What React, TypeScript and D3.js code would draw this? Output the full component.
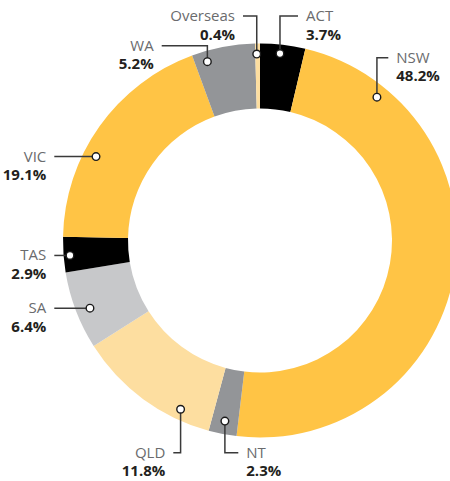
import React from "react";
import * as d3 from "d3";

const categories = ["ACT", "NSW", "NT", "QLD", "SA", "TAS", "VIC", "WA", "Overseas"];
const values = [3.7, 48.2, 2.3, 11.8, 6.4, 2.9, 19.1, 5.2, 0.4];
const valueLabels = ["3.7%", "48.2%", "2.3%", "11.8%", "6.4%", "2.9%", "19.1%", "5.2%", "0.4%"];
const colors = ["#000000", "#FFC445", "#939598", "#FDDEA0", "#C7C8CA", "#000000", "#FFC445", "#939598", "#FDDEA0"];

// annotation layout: dot angle (deg, clockwise from top), dot radius, elbow y (null = straight), line end x, side
const labelLayout = [
  { angle: 6.1, r: 188, elbowY: 16, endX: 298, side: "right" },
  { angle: 39.2, r: 185, elbowY: 57.7, endX: 388.3, side: "right" },
  { angle: 191.0, r: 184, elbowY: 452.7, endX: 238.3, side: "right" },
  { angle: 205.2, r: 186.5, elbowY: 452.7, endX: 173.3, side: "left" },
  { angle: 248.3, r: 183, elbowY: null, endX: 54.3, side: "left" },
  { angle: 265.5, r: 190.6, elbowY: null, endX: 54.3, side: "left" },
  { angle: 297.1, r: 184.2, elbowY: null, endX: 54.3, side: "left" },
  { angle: 343.6, r: 186.4, elbowY: 45.7, endX: 161.7, side: "left" },
  { angle: 359.0, r: 186.5, elbowY: 16, endX: 243, side: "left" },
];

const W = 450;
const H = 481;
const CX = 260;
const CY = 240.5;
const R_OUT = 197;
const R_IN = 132;

export default function App() {
  const data = categories.map((c, i) => ({ c, v: values[i], i }));
  const pie = d3.pie<any>().value((d) => d.v).sort(null).startAngle(0).endAngle(2 * Math.PI);
  const arcs = pie(data);
  const arc = d3.arc<any>().innerRadius(R_IN).outerRadius(R_OUT);
  const gap = 8;

  return (
    <svg
      width={W}
      height={H}
      style={{ position: "absolute", left: 0, top: 0, background: "#fff" }}
      fontFamily="'Open Sans', sans-serif"
    >
      <g transform={`translate(${CX},${CY})`}>
        {arcs.map((a, i) => (
          <path key={i} d={arc(a) as string} fill={colors[i]} />
        ))}
      </g>
      {labelLayout.map((L, i) => {
        const rad = (L.angle * Math.PI) / 180;
        const dx = CX + L.r * Math.sin(rad);
        const dy = CY - L.r * Math.cos(rad);
        const lineY = L.elbowY == null ? dy : L.elbowY;
        const pts =
          L.elbowY == null
            ? `M${dx},${dy}H${L.endX}`
            : `M${dx},${dy}V${L.elbowY}H${L.endX}`;
        const tx = L.side === "right" ? L.endX + gap : L.endX - gap;
        const anchor = L.side === "right" ? "start" : "end";
        return (
          <g key={i}>
            <path d={pts} fill="none" stroke="#3a3a3a" strokeWidth={1.5} />
            <circle cx={dx} cy={dy} r={3.8} fill="#fff" stroke="#1a1a1a" strokeWidth={1.4} />
            <text x={tx} y={lineY + 5} textAnchor={anchor} fontSize={15} fontWeight={400} fill="#6a6b6d">
              {categories[i]}
            </text>
            <text x={tx} y={lineY + 23.5} textAnchor={anchor} fontSize={15} fontWeight={700} fill="#231f20">
              {valueLabels[i]}
            </text>
          </g>
        );
      })}
    </svg>
  );
}
